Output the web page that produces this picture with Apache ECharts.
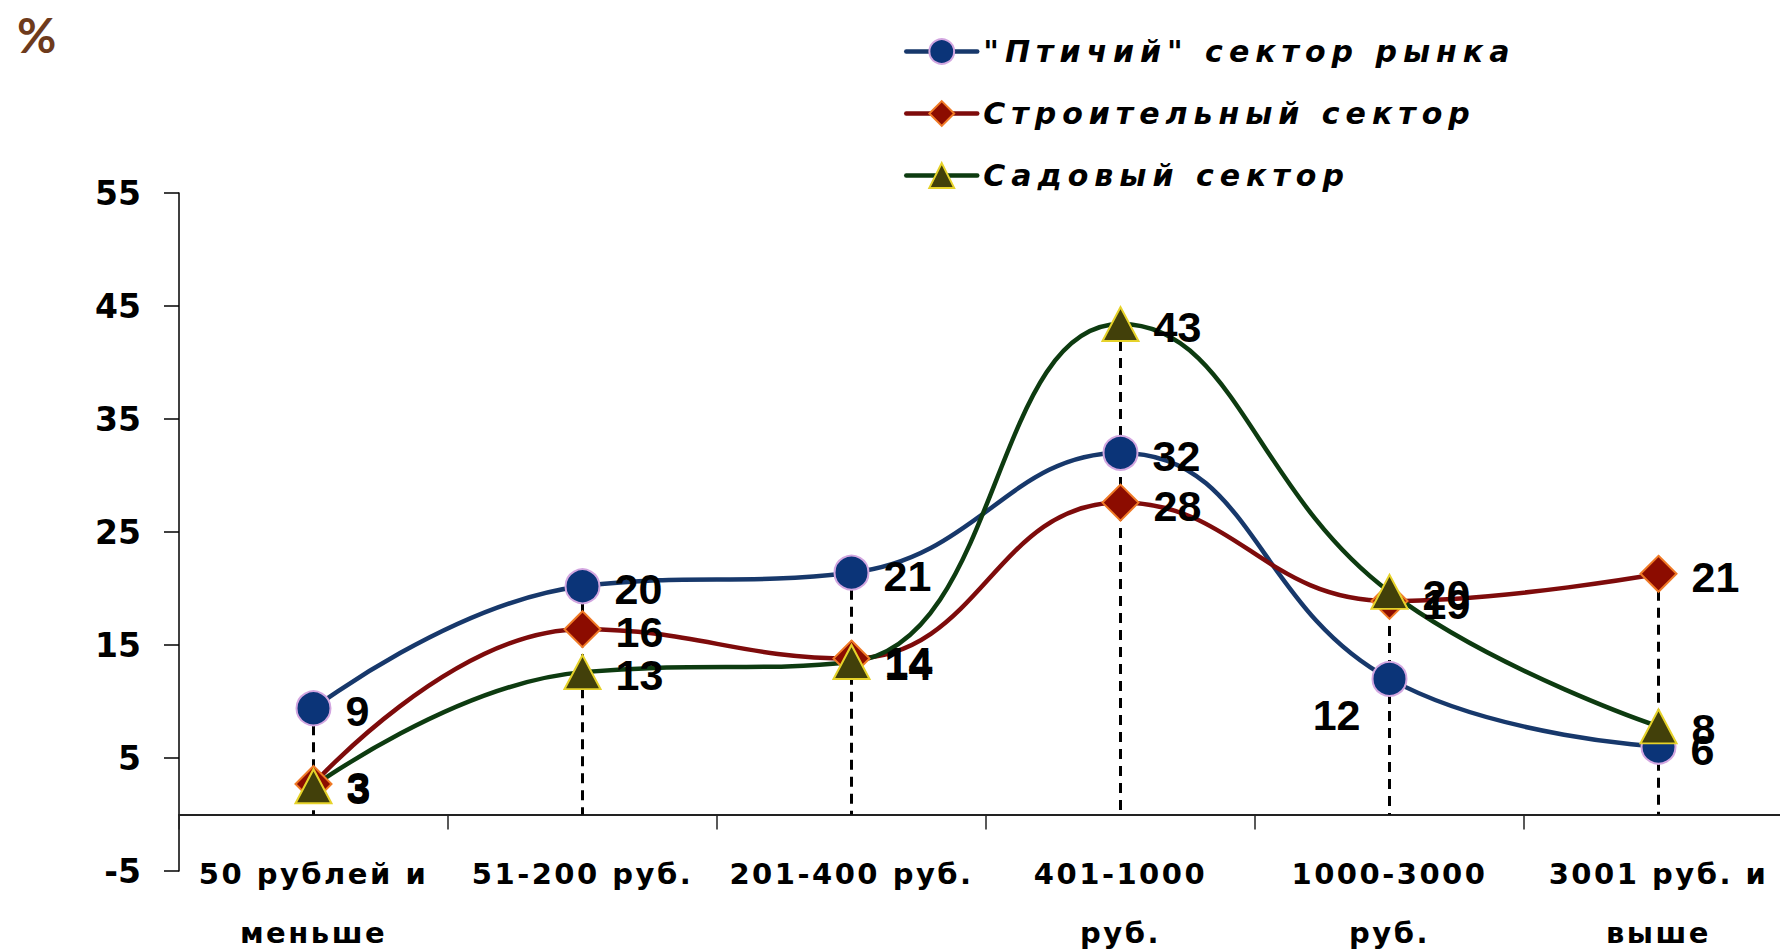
<!DOCTYPE html>
<html><head><meta charset="utf-8">
<script src="https://cdn.jsdelivr.net/npm/echarts@6/dist/echarts.min.js"></script>
<style>
html,body{margin:0;padding:0;background:#fff}
#c{width:1780px;height:950px}
#c text[style*="29px"]{letter-spacing:2.5px}
#c text[style*="30px"]{letter-spacing:6px}
</style></head><body><div id="c"></div>
<script>
const categories = ['50 рублей и\nменьше', '51-200 руб.', '201-400 руб.', '401-1000\nруб.', '1000-3000\nруб.', '3001 руб. и\nвыше'];
const seriesNames = ['"Птичий" сектор рынка', 'Строительный сектор', 'Садовый сектор'];
const birdSector = [9.4, 20.2, 21.4, 32.0, 12.0, 6.0];
const buildingSector = [2.7, 16.4, 13.8, 27.6, 18.9, 21.3];
const gardenSector = [2.5, 12.6, 13.5, 43.4, 19.7, 7.8];
const yTicks = [-5, 5, 15, 25, 35, 45, 55];

const dropTops = categories.map((c, i) => Math.max(birdSector[i], buildingSector[i], gardenSector[i]));

const chart = echarts.init(document.getElementById('c'), null, {renderer: 'svg'});

const labelBase = {
  show: true, position: 'right', distance: 14, offset: [0, 3],
  formatter: p => String(Math.round(p.value)),
  fontFamily: 'Liberation Sans', fontWeight: 'bold', fontSize: 43, color: '#000'
};

function mkSeries(name, data, lineColor, symbol, size, fill, border) {
  return {
    type: 'line', name: name, smooth: 0.45, symbol: symbol, symbolSize: size, z: 3,
    data: data.map(v => v),
    lineStyle: {color: lineColor, width: 4.5},
    itemStyle: {color: fill, borderColor: border, borderWidth: 2},
    label: labelBase,
    emphasis: {disabled: true},
    animation: false
  };
}

const blue = mkSeries(seriesNames[0], birdSector, '#17386B', 'circle', 34, '#0B3478', '#D2A6E0');
blue.data[4] = {value: birdSector[4], label: {position: 'left', distance: 11, offset: [0, 36]}};
const red = mkSeries(seriesNames[1], buildingSector, '#7E0B0B', 'diamond', 36, '#8C0C00', '#F07A26');
const green = mkSeries(seriesNames[2], gardenSector, '#0D3B10', 'triangle', [36, 34], '#42400A', '#E6D22A');

chart.setOption({
  animation: false,
  backgroundColor: '#fff',
  title: {text: '%', left: 12, top: 5,
    textStyle: {fontFamily: 'Lato', fontWeight: 'bold', fontSize: 48, color: '#6E3B1C'}},
  legend: {
    data: seriesNames, orient: 'vertical', left: 899, top: 31,
    itemWidth: 71, itemHeight: 31, itemGap: 31,
    lineStyle: {width: 4.5, cap: 'round'},
    textStyle: {fontFamily: 'DejaVu Sans', fontStyle: 'italic', fontWeight: 'bold', fontSize: 30,
      lineHeight: 31, color: '#000', padding: [0, 0, 0, 1]},
    selectedMode: false
  },
  grid: {left: 179, top: 193, width: 1614, height: 678, outerBoundsMode: 'none'},
  xAxis: {
    type: 'category', data: categories, boundaryGap: true,
    axisLine: {onZero: true, lineStyle: {color: '#222', width: 2}},
    axisTick: {show: true, inside: false, length: 15, interval: 0, alignWithLabel: false, lineStyle: {color: '#222', width: 1.5}},
    axisLabel: {interval: 0, margin: -27, lineHeight: 59, fontFamily: 'DejaVu Sans', fontWeight: 'bold', fontSize: 29, color: '#000'},
    splitLine: {show: false}
  },
  yAxis: {
    type: 'value', min: -5, max: 55,
    axisLine: {show: true, onZero: false, lineStyle: {color: '#000', width: 1.5}},
    axisTick: {show: true, length: 15, customValues: yTicks, lineStyle: {color: '#000', width: 1.5}},
    axisLabel: {customValues: yTicks, margin: 38, fontFamily: 'DejaVu Sans', fontWeight: 'bold', fontSize: 33, color: '#000'},
    splitLine: {show: false}
  },
  series: [
    {
      type: 'custom', name: 'drop', z: 1, silent: true,
      data: dropTops.map((v, i) => [i, v]),
      encode: {x: 0, y: 1},
      renderItem: function (params, api) {
        const top = api.coord([api.value(0), api.value(1)]);
        const bot = api.coord([api.value(0), 0]);
        return {type: 'line', shape: {x1: top[0], y1: top[1], x2: bot[0], y2: bot[1]},
          style: {stroke: '#000', lineWidth: 3, lineDash: [10, 7], fill: null}};
      }
    },
    blue, red, green
  ]
});
</script></body></html>
